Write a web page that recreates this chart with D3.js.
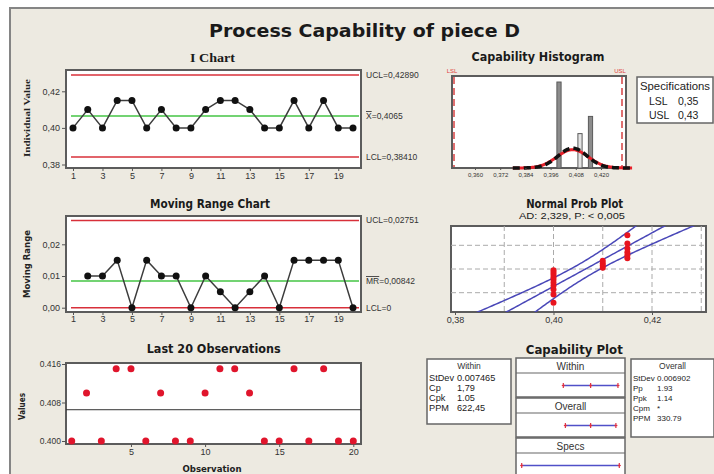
<!DOCTYPE html>
<html><head><meta charset="utf-8">
<script src="https://cdn.jsdelivr.net/npm/d3@7"></script>
<style>body{margin:0;background:#fff;} svg{display:block;}</style>
</head><body><svg id="c" width="714" height="474"></svg>
<script>
// ---------- DATA ----------
const observations = [1,2,3,4,5,6,7,8,9,10,11,12,13,14,15,16,17,18,19,20];
const values = [0.400,0.410,0.400,0.415,0.415,0.400,0.410,0.400,0.400,0.410,0.415,0.415,0.410,0.400,0.400,0.415,0.400,0.415,0.400,0.400];
const movingRanges = [null,0.010,0.010,0.015,0.000,0.015,0.010,0.010,0.000,0.010,0.005,0.000,0.005,0.010,0.000,0.015,0.015,0.015,0.015,0.000];
const iLimitValues = [0.42890, 0.4065, 0.38410];
const iLimitLabels = ["UCL=0,42890", "=0,4065", "LCL=0,38410"];
const mrLimitValues = [0.02751, 0.00842, 0];
const mrLimitLabels = ["UCL=0,02751", "=0,00842", "LCL=0"];
const iTicks = [0.38, 0.40, 0.42];
const iTickLabels = ["0,38", "0,40", "0,42"];
const mrTicks = [0.00, 0.01, 0.02];
const mrTickLabels = ["0,00", "0,01", "0,02"];
const oddObs = [1,3,5,7,9,11,13,15,17,19];
const obsTicks = [5,10,15,20];
const obsYTicks = [0.400, 0.408, 0.416];
const obsYTickLabels = ["0.400", "0.408", "0.416"];
const specNames = ["LSL", "USL"];
const specValues = [0.35, 0.43];
const specLabels = ["0,35", "0,43"];
const binCenters = [0.400, 0.410, 0.415];
const binCounts = [10, 4, 6];
const binWidth = 0.002;
const histTicks = [0.360, 0.372, 0.384, 0.396, 0.408, 0.420];
const histTickLabels = ["0,360", "0,372", "0,384", "0,396", "0,408", "0,420"];
const processMean = 0.4065;
const sdWithin = 0.007465;
const sdOverall = 0.006902;
const probTicks = [0.38, 0.40, 0.42];
const probTickLabels = ["0,38", "0,40", "0,42"];
const probGridX = [0.39, 0.40, 0.41, 0.42, 0.43];
const probGridPct = [0.10, 0.50, 0.90];
const withinStatNames = ["StDev", "Cp", "Cpk", "PPM"];
const withinStatValues = ["0.007465", "1,79", "1.05", "622,45"];
const overallStatNames = ["StDev", "Pp", "Ppk", "Cpm", "PPM"];
const overallStatValues = ["0.006902", "1.93", "1.14", "*", "330.79"];

// ---------- SETUP ----------
const SANS = "'Liberation Sans', Arial, sans-serif";
const TITLE = "'DejaVu Sans', sans-serif";
const SERIF = "'Liberation Serif', 'Times New Roman', serif";
const RED = "#d8303a", GREEN = "#44c444", GRAY = "#5c5c5c";
const svg = d3.select("#c");
svg.append("rect").attr("width",714).attr("height",474).attr("fill","#fff");
svg.append("rect").attr("x",10).attr("y",8).attr("width",720).attr("height",480)
  .attr("fill","#EDEAE1").attr("stroke","#858585").attr("stroke-width",2);

function title(txt, cx, y, size, len, opts) {
  opts = opts || {};
  svg.append("text").attr("x",cx).attr("y",y).attr("text-anchor","middle")
    .attr("font-family",opts.family||TITLE).attr("font-weight",opts.weight||"bold")
    .attr("font-size",size).attr("fill","#1a1a1a")
    .attr("textLength",len).attr("lengthAdjust","spacingAndGlyphs").text(txt);
}
function frame(x,y,w,h) {
  svg.append("rect").attr("x",x).attr("y",y).attr("width",w).attr("height",h)
    .attr("fill","#fff").attr("stroke",GRAY).attr("stroke-width",2);
}
function styleAxis(g, size) {
  g.select(".domain").remove();
  g.selectAll(".tick line").attr("stroke","#555");
  g.selectAll(".tick text").attr("font-family",SANS).attr("font-size",size).attr("fill","#333");
}
function vlabel(txt, cx, cy, size, len, family) {
  svg.append("text").attr("transform",`translate(${cx},${cy}) rotate(-90)`)
    .attr("text-anchor","middle").attr("dy","0.35em")
    .attr("font-family",family||TITLE).attr("font-weight","bold").attr("font-size",size)
    .attr("fill","#222").attr("textLength",len).attr("lengthAdjust","spacingAndGlyphs").text(txt);
}

title("Process Capability of piece D", 364.5, 37, 17.5, 311);

// ---------- I CHART ----------
title("I Chart", 212.5, 61.5, 13.5, 45, {family: SERIF});
const iX = d3.scaleLinear().domain([1,20]).range([73,353]);
const iY = d3.scaleLinear().domain([0.38,0.42]).range([164.5,91.3]);
frame(66,70,295,98);
iLimitValues.forEach((v,i) => {
  svg.append("line").attr("x1",71).attr("x2",359).attr("y1",iY(v)).attr("y2",iY(v))
    .attr("stroke", i===1 ? GREEN : RED).attr("stroke-width",1.5);
});
svg.append("path").datum(values)
  .attr("d", d3.line().x((d,i)=>iX(observations[i])).y(d=>iY(d)))
  .attr("fill","none").attr("stroke","#3c3c3c").attr("stroke-width",1.5);
svg.append("g").selectAll("circle").data(values).join("circle")
  .attr("cx",(d,i)=>iX(observations[i])).attr("cy",d=>iY(d)).attr("r",3.5).attr("fill","#111");
styleAxis(svg.append("g").attr("transform","translate(66,0)")
  .call(d3.axisLeft(iY).tickValues(iTicks).tickFormat((d,i)=>iTickLabels[i]).tickSize(4).tickPadding(2)), 9);
styleAxis(svg.append("g").attr("transform","translate(0,168)")
  .call(d3.axisBottom(iX).tickValues(oddObs).tickSize(3).tickPadding(2)), 9);
iLimitValues.forEach((v,i) => {
  const t = svg.append("text").attr("x",366).attr("y",iY(v)+3)
    .attr("font-family",SANS).attr("font-size",8.5).attr("fill","#333");
  if (i===1) t.append("tspan").attr("text-decoration","overline").text("X");
  t.append("tspan").text(iLimitLabels[i]);
});
vlabel("Individual Value", 27, 118, 9, 78, SERIF);

// ---------- MOVING RANGE ----------
title("Moving Range Chart", 210, 207.5, 12, 120);
const mY = d3.scaleLinear().domain([0,0.02]).range([307.7,244.3]);
frame(66,216,295,96);
mrLimitValues.forEach((v,i) => {
  svg.append("line").attr("x1",71).attr("x2",359).attr("y1",mY(v)).attr("y2",mY(v))
    .attr("stroke", i===1 ? GREEN : RED).attr("stroke-width",1.5);
});
const mrPts = movingRanges.map((d,i)=>({x:observations[i], y:d})).filter(d=>d.y!==null);
svg.append("path").datum(mrPts)
  .attr("d", d3.line().x(d=>iX(d.x)).y(d=>mY(d.y)))
  .attr("fill","none").attr("stroke","#3c3c3c").attr("stroke-width",1.5);
svg.append("g").selectAll("circle").data(mrPts).join("circle")
  .attr("cx",d=>iX(d.x)).attr("cy",d=>mY(d.y)).attr("r",3.5).attr("fill","#111");
styleAxis(svg.append("g").attr("transform","translate(66,0)")
  .call(d3.axisLeft(mY).tickValues(mrTicks).tickFormat((d,i)=>mrTickLabels[i]).tickSize(4).tickPadding(2)), 9);
styleAxis(svg.append("g").attr("transform","translate(0,312)")
  .call(d3.axisBottom(iX).tickValues(oddObs).tickSize(3).tickPadding(1)), 9);
mrLimitValues.forEach((v,i) => {
  const t = svg.append("text").attr("x",366).attr("y",mY(v)+3)
    .attr("font-family",SANS).attr("font-size",8.5).attr("fill","#333");
  if (i===1) t.append("tspan").attr("text-decoration","overline").text("MR");
  t.append("tspan").text(mrLimitLabels[i]);
});
vlabel("Moving Range", 27, 264, 8, 68);

// ---------- LAST 20 OBSERVATIONS ----------
title("Last 20 Observations", 213.7, 352.5, 12, 134);
const oX = d3.scaleLinear().domain([1,20]).range([71.7,353.3]);
const oY = d3.scaleLinear().domain([0.400,0.416]).range([441,364]);
frame(66,363,295,81);
svg.append("line").attr("x1",66).attr("x2",361).attr("y1",oY(processMean)).attr("y2",oY(processMean))
  .attr("stroke","#333").attr("stroke-width",1);
svg.append("g").selectAll("circle").data(values).join("circle")
  .attr("cx",(d,i)=>oX(observations[i])).attr("cy",d=>oY(d)).attr("r",3.5).attr("fill","#e0152c");
styleAxis(svg.append("g").attr("transform","translate(66,0)")
  .call(d3.axisLeft(oY).tickValues(obsYTicks).tickFormat((d,i)=>obsYTickLabels[i]).tickSize(4).tickPadding(1)), 8.5);
styleAxis(svg.append("g").attr("transform","translate(0,444)")
  .call(d3.axisBottom(oX).tickValues(obsTicks).tickSize(3).tickPadding(2)), 9);
vlabel("Values", 22, 406.5, 9, 27);
svg.append("text").attr("x",212).attr("y",472).attr("text-anchor","middle")
  .attr("font-family",TITLE).attr("font-weight","bold").attr("font-size",8.5).attr("fill","#222")
  .attr("textLength",59).attr("lengthAdjust","spacingAndGlyphs").text("Observation");

// ---------- CAPABILITY HISTOGRAM ----------
title("Capability Histogram", 538, 61, 12, 133);
const hX = d3.scaleLinear().domain([0.35,0.43]).range([454,622]);
const hY = d3.scaleLinear().domain([0,10.7]).range([168,76]);
frame(452,76,174,92);
svg.append("g").selectAll("rect").data(binCenters).join("rect")
  .attr("x",d=>hX(d-binWidth/2)).attr("width",hX(binWidth)-hX(0))
  .attr("y",(d,i)=>hY(binCounts[i])).attr("height",(d,i)=>hY(0)-hY(binCounts[i]))
  .attr("fill",(d,i)=>i===1?"#e4e4e4":"#8c8c8c").attr("stroke","#5a5a5a").attr("stroke-width",1);
specValues.forEach((v,i) => {
  svg.append("line").attr("x1",hX(v)).attr("x2",hX(v)).attr("y1",77).attr("y2",167)
    .attr("stroke","#e07070").attr("stroke-width",2).attr("stroke-dasharray","7,4");
  svg.append("text").attr("x",hX(v)-2).attr("y",73).attr("text-anchor","middle")
    .attr("font-family",SANS).attr("font-size",6).attr("fill","#e04040").text(specNames[i]);
});
const curveXs = d3.range(0.378, 0.4352, 0.0004);
const pdf = (x, m, s) => Math.exp(-0.5*((x-m)/s)**2)/(s*Math.sqrt(2*Math.PI));
const nObs = values.length;
const curveLine = sd => d3.line().x(d=>hX(d)).y(d=>hY(nObs*binWidth*pdf(d, processMean, sd))).curve(d3.curveBasis);
svg.append("path").datum(curveXs).attr("d",curveLine(sdWithin))
  .attr("fill","none").attr("stroke","#e8202a").attr("stroke-width",3);
svg.append("path").datum(curveXs).attr("d",curveLine(sdOverall))
  .attr("fill","none").attr("stroke","#111").attr("stroke-width",3.5).attr("stroke-dasharray","7,4");
styleAxis(svg.append("g").attr("transform","translate(0,168)")
  .call(d3.axisBottom(hX).tickValues(histTicks).tickFormat((d,i)=>histTickLabels[i]).tickSize(2).tickPadding(3)), 6);
// specifications box
svg.append("rect").attr("x",637).attr("y",77).attr("width",76).attr("height",46)
  .attr("fill","#fff").attr("stroke","#666").attr("stroke-width",1.5);
svg.append("text").attr("x",640).attr("y",90).attr("font-family",SANS).attr("font-size",10.5)
  .attr("fill","#222").attr("textLength",70).attr("lengthAdjust","spacingAndGlyphs").text("Specifications");
specNames.forEach((n,i) => {
  svg.append("text").attr("x",649).attr("y",105+i*13.5).attr("font-family",SANS).attr("font-size",10.5)
    .attr("fill","#222").text(n);
  svg.append("text").attr("x",678).attr("y",105+i*13.5).attr("font-family",SANS).attr("font-size",10.5)
    .attr("fill","#222").text(specLabels[i]);
});

// ---------- NORMAL PROB PLOT ----------
title("Normal Prob Plot", 574.7, 207.5, 12, 97);
title("AD: 2,329, P: < 0,005", 572, 218.5, 9, 106, {family: SANS, weight: "normal"});
const nX = d3.scaleLinear().domain([0.38,0.42]).range([455,652]);
const zMax = 2.326;
const nY = d3.scaleLinear().domain([-zMax, zMax]).range([312,226]);
frame(451,226,255,86);
svg.append("clipPath").attr("id","npclip").append("rect").attr("x",451).attr("y",226).attr("width",255).attr("height",86);
const np = svg.append("g").attr("clip-path","url(#npclip)");
probGridX.forEach(v => np.append("line").attr("x1",nX(v)).attr("x2",nX(v)).attr("y1",226).attr("y2",312)
  .attr("stroke","#aaa").attr("stroke-width",1).attr("stroke-dasharray","5,3"));
function qnorm(p) { // Acklam approximation of the normal quantile
  const a=[-3.969683028665376e+01,2.209460984245205e+02,-2.759285104469687e+02,1.383577518672690e+02,-3.066479806614716e+01,2.506628277459239e+00];
  const b=[-5.447609879822406e+01,1.615858368580409e+02,-1.556989798598866e+02,6.680131188771972e+01,-1.328068155288572e+01];
  const c=[-7.784894002430293e-03,-3.223964580411365e-01,-2.400758277161838e+00,-2.549732539343734e+00,4.374664141464968e+00,2.938163982698783e+00];
  const d=[7.784695709041462e-03,3.224671290700398e-01,2.445134137142996e+00,3.754408661907416e+00];
  const pl=0.02425; let q,r;
  if (p<pl){q=Math.sqrt(-2*Math.log(p));return (((((c[0]*q+c[1])*q+c[2])*q+c[3])*q+c[4])*q+c[5])/((((d[0]*q+d[1])*q+d[2])*q+d[3])*q+1);}
  if (p>1-pl){q=Math.sqrt(-2*Math.log(1-p));return -(((((c[0]*q+c[1])*q+c[2])*q+c[3])*q+c[4])*q+c[5])/((((d[0]*q+d[1])*q+d[2])*q+d[3])*q+1);}
  q=p-0.5;r=q*q;return (((((a[0]*r+a[1])*r+a[2])*r+a[3])*r+a[4])*r+a[5])*q/(((((b[0]*r+b[1])*r+b[2])*r+b[3])*r+b[4])*r+1);
}
probGridPct.forEach(p => np.append("line").attr("x1",451).attr("x2",706).attr("y1",nY(qnorm(p))).attr("y2",nY(qnorm(p)))
  .attr("stroke","#aaa").attr("stroke-width",1).attr("stroke-dasharray","5,3"));
const zs = d3.range(-2.6, 2.61, 0.05);
const half = z => 1.96*sdOverall*Math.sqrt((1+z*z/2)/nObs);
[0,-1,1].forEach(k => {
  np.append("path").datum(zs)
    .attr("d", d3.line().x(z=>nX(processMean+z*sdOverall+k*half(z))).y(z=>nY(z)))
    .attr("fill","none").attr("stroke","#4a48b8").attr("stroke-width",1.5);
});
const sorted = values.slice().sort(d3.ascending);
np.selectAll("circle.pp").data(sorted).join("circle")
  .attr("cx",d=>nX(d)).attr("cy",(d,i)=>nY(qnorm((i+1-0.3)/(nObs+0.4)))).attr("r",3).attr("fill","#e8141e");
styleAxis(svg.append("g").attr("transform","translate(0,312)")
  .call(d3.axisBottom(nX).tickValues(probTicks).tickFormat((d,i)=>probTickLabels[i]).tickSize(3).tickPadding(2)), 9);

// ---------- CAPABILITY PLOT ----------
title("Capability Plot", 574.3, 353.5, 12, 97);
function statBox(x, y, w, h, head, names, vals, valDx, size) {
  svg.append("rect").attr("x",x).attr("y",y).attr("width",w).attr("height",h)
    .attr("fill","#fff").attr("stroke","#666").attr("stroke-width",1.5);
  svg.append("text").attr("x",x+w/2).attr("y",y+9.5).attr("text-anchor","middle")
    .attr("font-family",SANS).attr("font-size",8.5).attr("fill","#333").text(head);
  names.forEach((n,i) => {
    svg.append("text").attr("x",x+2).attr("y",y+22+i*10).attr("font-family",SANS).attr("font-size",size).attr("fill","#222").text(n);
    svg.append("text").attr("x",x+valDx).attr("y",y+22+i*10).attr("font-family",SANS).attr("font-size",size).attr("fill","#222").text(vals[i]);
  });
}
statBox(427, 359, 84, 65, "Within", withinStatNames, withinStatValues, 30, 9.2);
statBox(631, 359, 83, 78, "Overall", overallStatNames, overallStatValues, 26, 8);
const cX = d3.scaleLinear().domain([0.35,0.43]).range([521.7,619.3]);
const sections = [
  {name:"Within", top:358, lo:processMean-3*sdWithin, mid:processMean, hi:processMean+3*sdWithin},
  {name:"Overall", top:398, lo:processMean-3*sdOverall, mid:processMean, hi:processMean+3*sdOverall},
  {name:"Specs", top:438, lo:specValues[0], mid:null, hi:specValues[1]}
];
sections.forEach(s => {
  svg.append("rect").attr("x",516).attr("y",s.top).attr("width",109).attr("height",39)
    .attr("fill","#fff").attr("stroke","#666").attr("stroke-width",1.5);
  svg.append("line").attr("x1",516).attr("x2",625).attr("y1",s.top+15).attr("y2",s.top+15)
    .attr("stroke","#666").attr("stroke-width",1.2);
  svg.append("text").attr("x",570.5).attr("y",s.top+11.5).attr("text-anchor","middle")
    .attr("font-family",SANS).attr("font-size",10).attr("fill","#333").text(s.name);
  const ly = s.top+27.5;
  svg.append("line").attr("x1",cX(s.lo)).attr("x2",cX(s.hi)).attr("y1",ly).attr("y2",ly)
    .attr("stroke","#5050c8").attr("stroke-width",1.5);
  [s.lo, s.mid, s.hi].filter(v=>v!==null).forEach(v => {
    svg.append("line").attr("x1",cX(v)).attr("x2",cX(v)).attr("y1",ly-2.5).attr("y2",ly+2.5)
      .attr("stroke","#e03040").attr("stroke-width",1.2);
    svg.append("line").attr("x1",cX(v)-1.5).attr("x2",cX(v)+1.5).attr("y1",ly).attr("y2",ly)
      .attr("stroke","#e03040").attr("stroke-width",1.2);
  });
});
</script></body></html>
